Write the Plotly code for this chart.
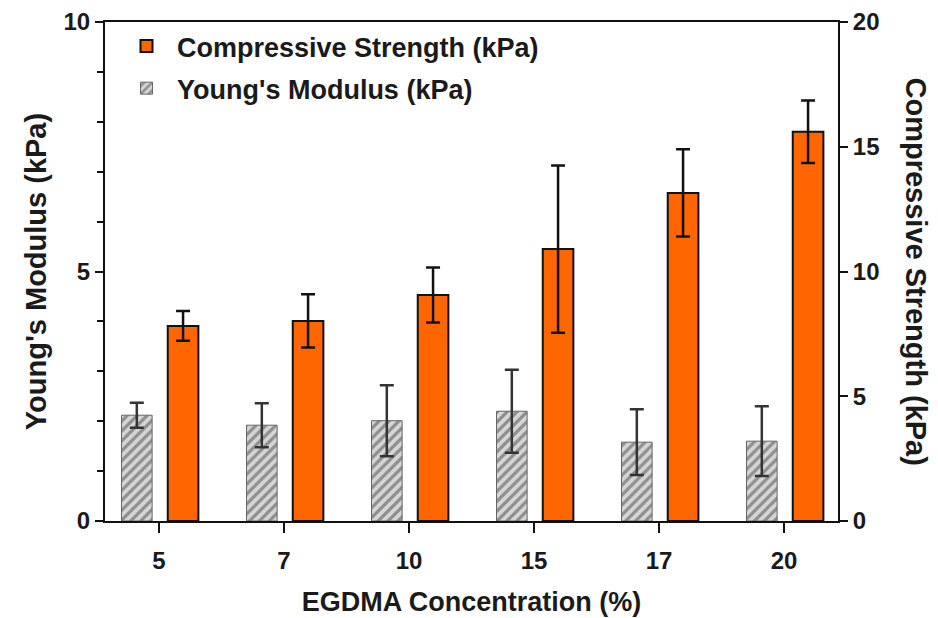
import plotly.graph_objects as go

categories = ["5", "7", "10", "15", "17", "20"]
youngs_modulus = [2.12, 1.92, 2.01, 2.20, 1.58, 1.60]
youngs_err = [0.25, 0.44, 0.71, 0.83, 0.66, 0.70]
compressive_strength = [7.82, 8.02, 9.06, 10.90, 13.15, 15.60]
compressive_err = [0.60, 1.07, 1.10, 3.35, 1.75, 1.25]

font_family = "Liberation Sans, Arial, sans-serif"
txt = "#1a1a1a"

fig = go.Figure()

fig.add_trace(go.Bar(
    x=categories, y=compressive_strength, yaxis="y2",
    name="<b>Compressive Strength (kPa)</b>", legendgroup="a",
    offset=0.07, width=0.245,
    marker=dict(color="#FF6600", line=dict(color="#111111", width=2)),
    error_y=dict(type="data", array=compressive_err, visible=True,
                 color="#111111", thickness=2.5, width=7),
))

fig.add_trace(go.Bar(
    x=categories, y=youngs_modulus, yaxis="y",
    name="<b>Young's Modulus (kPa)</b>", legendgroup="b",
    offset=-0.30, width=0.245,
    marker=dict(color="#d0d0d0", line=dict(color="#666666", width=1),
                pattern=dict(shape="/", fgcolor="#444444", bgcolor="#d6d6d6",
                             size=7, solidity=0.45)),
    error_y=dict(type="data", array=youngs_err, visible=True,
                 color="#333333", thickness=2.5, width=7),
))

tick_font = dict(family=font_family, size=24, color=txt)
title_font = dict(family=font_family, size=27, color=txt)
vtitle_font = dict(family=font_family, size=29, color=txt)

fig.update_layout(
    width=938, height=618,
    margin=dict(l=105, r=100, t=22, b=97),
    paper_bgcolor="white", plot_bgcolor="white",
    barmode="overlay",
    font=dict(family=font_family, color=txt),
    showlegend=True,
    legend=dict(x=0.015, y=1.0, xanchor="left", yanchor="top",
                bgcolor="rgba(0,0,0,0)", font=dict(family=font_family, size=27, color=txt),
                traceorder="grouped", tracegroupgap=4, itemwidth=51),
    xaxis=dict(
        type="category", range=[-0.432, 5.432], automargin=False,
        showline=True, linecolor="#111111", linewidth=2, mirror=True,
        ticks="outside", ticklen=10, tickwidth=2, tickcolor="#111111",
        tickfont=tick_font, tickprefix="<b>", ticksuffix="</b>",
        ticklabelstandoff=7,
        title=dict(text="<b>EGDMA Concentration (%)</b>", font=title_font, standoff=19),
        showgrid=False, zeroline=False,
    ),
    yaxis=dict(
        range=[0, 10], dtick=5, tick0=0, automargin=False,
        showline=True, linecolor="#111111", linewidth=2,
        ticks="outside", ticklen=8, tickwidth=2, tickcolor="#111111",
        tickfont=tick_font, tickprefix="<b>", ticksuffix="</b>",
        minor=dict(dtick=1, ticks="outside", ticklen=6, tickwidth=2, tickcolor="#111111", showgrid=False),
        title=dict(text="<b>Young's Modulus (kPa)</b>", font=vtitle_font, standoff=8),
        showgrid=False, zeroline=False,
    ),
    yaxis2=dict(
        range=[0, 20], dtick=5, tick0=0, overlaying="y", side="right", automargin=False,
        showline=True, linecolor="#111111", linewidth=2,
        ticks="outside", ticklen=8, tickwidth=2, tickcolor="#111111",
        tickfont=tick_font, tickprefix="<b>", ticksuffix="</b>",
        showgrid=False, zeroline=False,
    ),
    annotations=[dict(
        text="<b>Compressive Strength (kPa)</b>", textangle=90,
        xref="paper", yref="paper", x=1.0, y=0.5, xshift=78,
        xanchor="center", yanchor="middle", showarrow=False,
        font=vtitle_font,
    )],
)

fig.write_html("out.html", config={"displayModeBar": False},
               post_script="document.body.style.margin='0';")
